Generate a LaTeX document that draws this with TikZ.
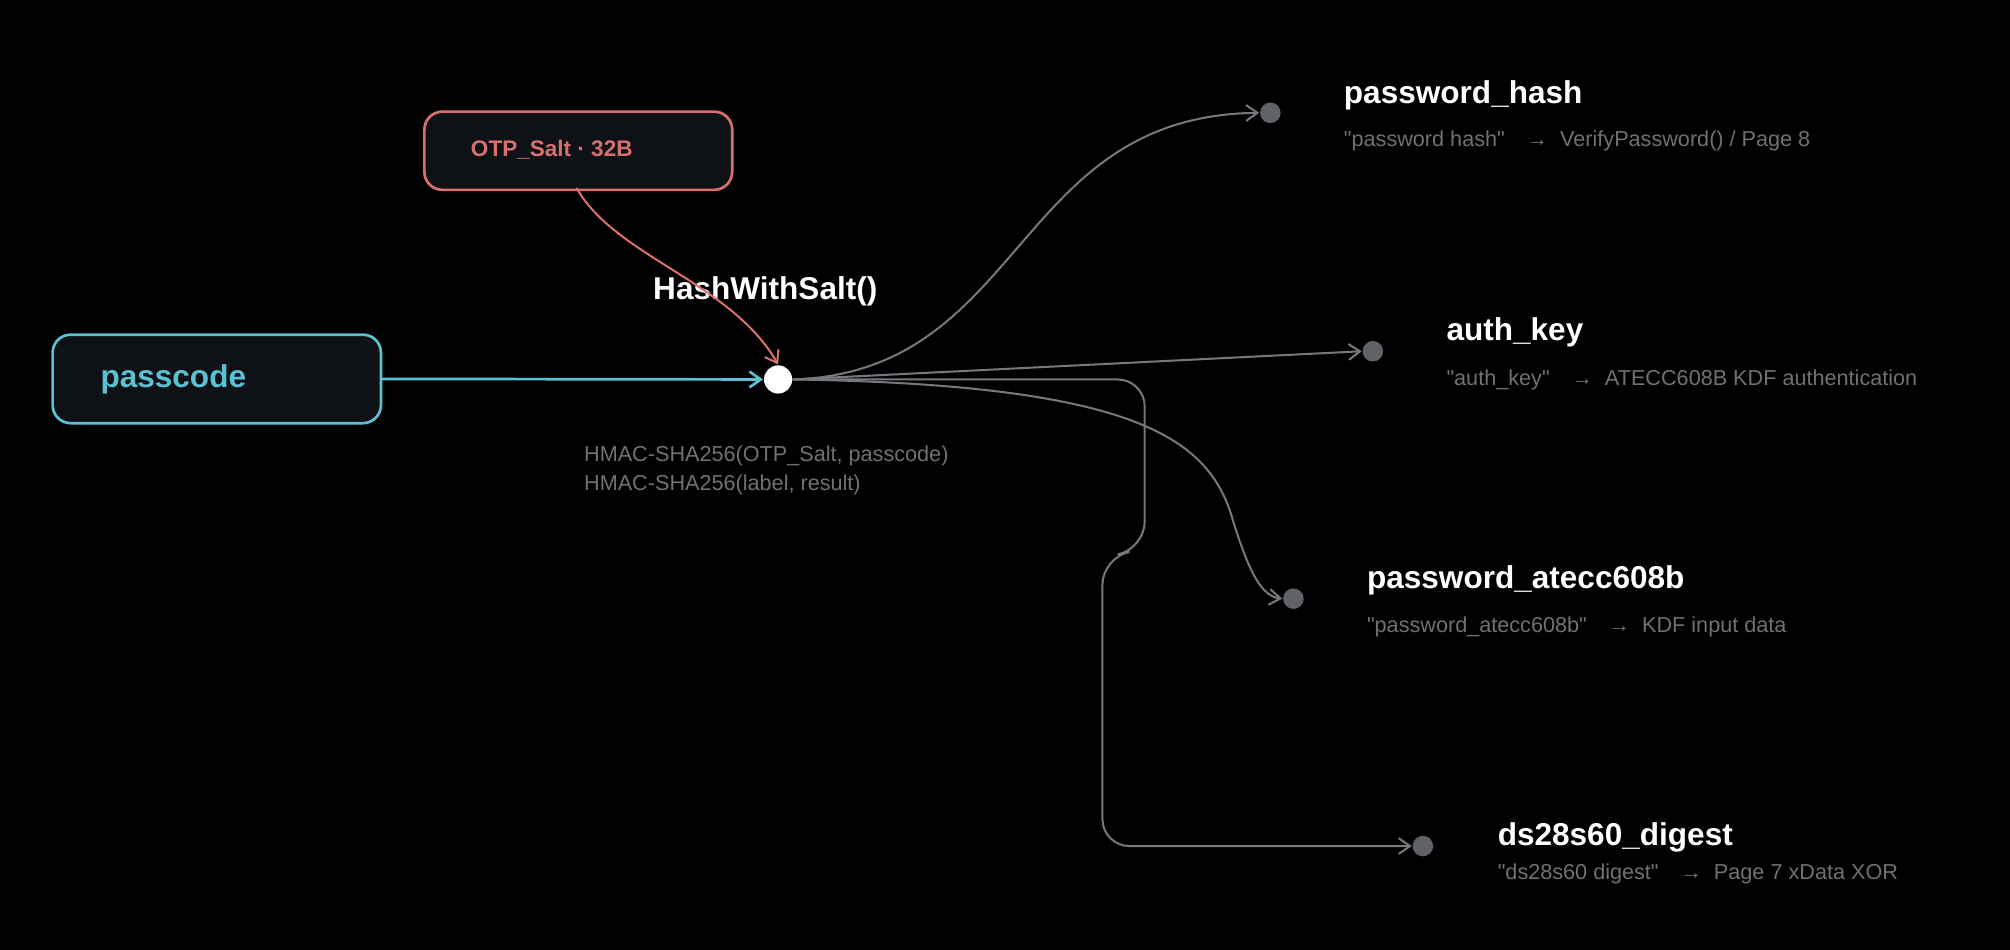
\documentclass[tikz,border=0pt]{standalone}
\usepackage{fontspec}
\setmainfont{Liberation Sans}
\usetikzlibrary{positioning,arrows.meta}
\definecolor{bgc}{HTML}{000000}
\definecolor{boxfill}{HTML}{0E1116}
\definecolor{cyanc}{HTML}{5BC0CF}
\definecolor{redc}{HTML}{D9706E}
\definecolor{edgec}{HTML}{75787C}
\definecolor{dotc}{HTML}{5F6368}
\definecolor{subc}{HTML}{6E7175}
\newcommand{\qt}{\textquotedbl}
\begin{document}
\begin{tikzpicture}[x=0.01cm,y=-0.01cm,line cap=round,line join=round]
\tikzset{>={Straight Barb[length=2.5pt,width=3.5pt]}}
\tikzset{
  inbox/.style={draw, rounded corners=4pt, fill=boxfill, line width=0.6pt, anchor=north west, minimum height=#1, inner sep=0pt},
  dot/.style={circle, fill=dotc, minimum size=0.16cm, inner sep=0pt},
  title/.style={anchor=west, text=white, font=\bfseries\fontsize{7}{8}\selectfont},
  sub/.style={anchor=west, text=subc, font=\fontsize{4.8}{6}\selectfont},
  wire/.style={->, draw=edgec, line width=0.45pt},
}
\useasboundingbox (0,0) rectangle (1568,741);
\fill[bgc] (0,0) rectangle (1568,741);

% inputs
\node[inbox=0.69cm, draw=cyanc, minimum width=2.56cm] (passcode) at (40,260) {};
\node[anchor=west, text=cyanc, font=\bfseries\fontsize{7}{8}\selectfont] at (66,296) {passcode};
\node[inbox=0.61cm, draw=redc, minimum width=2.40cm] (salt) at (330,86) {};
\node[anchor=west, text=redc, font=\bfseries\fontsize{5}{6}\selectfont] at (355,117) {OTP\_Salt · 32B};

% hub
\node[circle, fill=white, minimum size=0.22cm, inner sep=0pt] (hub) at (607,296) {};
\node[text=white, font=\bfseries\fontsize{7}{8}\selectfont] (fn) at (597,227) {HashWithSalt()};
\node[anchor=north west, align=left, text=subc, font=\fontsize{4.8}{6.5}\selectfont, inner sep=0pt] (hmac) at (455,347)
  {HMAC-SHA256(OTP\_Salt, passcode)\\HMAC-SHA256(label, result)};

\draw[->, draw=cyanc, line width=0.6pt] (passcode.east) -- (hub.west);
\draw[->, draw=redc, line width=0.45pt] (450,147) .. controls (480,200) and (570,220) .. (hub.north);

% outputs
\node[dot] (ph) at (991,88) {};
\node[dot] (ak) at (1071,274) {};
\node[dot] (pa) at (1009,467) {};
\node[dot] (dd) at (1110,660) {};

\node[title] at (1036,74) {password\_hash};
\node[sub] at (1036,110) {\qt password hash\qt\quad → \ VerifyPassword() / Page 8};
\node[title] at (1116,259) {auth\_key};
\node[sub] at (1116,296) {\qt auth\_key\qt\quad → \ ATECC608B KDF authentication};
\node[title] at (1054,453) {password\_atecc608b};
\node[sub] at (1054,489) {\qt password\_atecc608b\qt\quad → \ KDF input data};
\node[title] at (1156,653) {ds28s60\_digest};
\node[sub] at (1156,682) {\qt ds28s60 digest\qt\quad → \ Page 7 xData XOR};

% connectors
\draw[wire] (hub.east) .. controls (800,290) and (790,90) .. (ph.west);
\draw[wire] (hub.east) -- (ak.west);
\draw[wire] (hub.east) .. controls (880,300) and (940,340) .. (960,400) .. controls (975,450) and (985,465) .. (pa.west);
\draw[wire, rounded corners=6pt] (hub.east) -- (893,296) -- (893,428) -- (860,435) -- (860,660) -- (dd.west);
\end{tikzpicture}
\end{document}
